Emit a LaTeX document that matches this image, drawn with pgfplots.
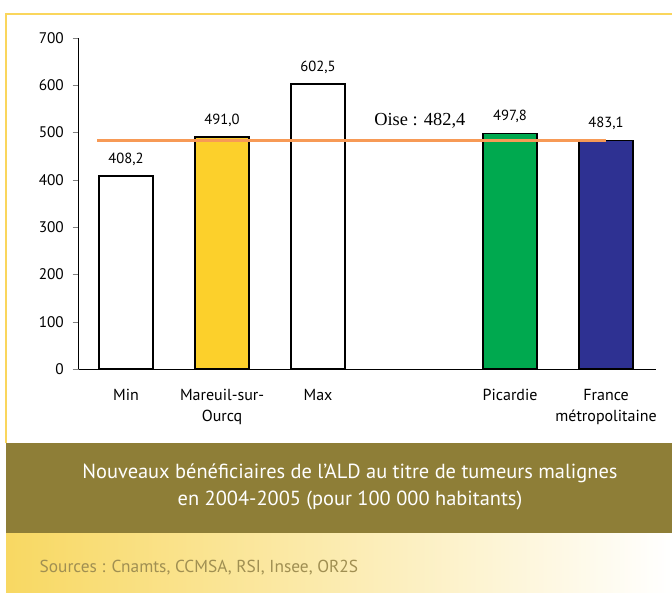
\documentclass[border=0pt]{standalone}
\usepackage{pgfplots}
\pgfplotsset{compat=1.18}
\usepackage{fontspec}
\setmainfont{PT Sans}
\newfontfamily\serif{Liberation Serif}
\definecolor{frameyel}{HTML}{FAD65C}
\definecolor{olive}{HTML}{8E7E37}
\definecolor{barYel}{HTML}{FCD02B}
\definecolor{barGreen}{HTML}{00A94F}
\definecolor{barBlue}{HTML}{2E3192}
\definecolor{oiseOrange}{HTML}{F79A56}
\definecolor{srcText}{HTML}{A08F52}
\definecolor{gradYel}{HTML}{F8D862}
\begin{document}
\begin{tikzpicture}
\begin{scope}[x=0.75pt,y=-0.75pt]
\useasboundingbox[fill=white] (0,0) rectangle (672,595);
\fill[shading=axis,left color=gradYel,right color=white,shading angle=90] (6,533) rectangle (672,592);
\fill[olive] (6,443) rectangle (672,533);
\draw[frameyel,line width=1.6pt] (6,443) -- (6,14) -- (672,14);
\node[white,font=\fontsize{15.3pt}{20pt}\selectfont,align=center] at (350,487) {Nouveaux bénéficiaires de l’ALD au titre de tumeurs malignes\\en 2004-2005 (pour 100 000 habitants)};
\node[srcText,font=\fontsize{13pt}{15pt}\selectfont,anchor=west] at (35,568) {Sources : Cnamts, CCMSA, RSI, Insee, OR2S};
\end{scope}
\begin{axis}[
  at={(58.9pt,-276.75pt)}, anchor=south west,
  scale only axis, width=433.1pt, height=248.25pt,
  xmin=-0.495, xmax=5.52, ymin=0, ymax=700,
  axis lines=left, axis line style={-, line width=0.6pt},
  ytick={0,100,...,700},
  tick align=outside, major tick length=4.5pt,
  xtick={0,1,2,4,5},
  xticklabels={Min,Mareuil-sur-\\Ourcq,Max,Picardie,France\\métropolitaine},
  x tick style={draw=none},
  xticklabel style={align=center, font=\fontsize{12pt}{16pt}\selectfont, yshift=-7pt},
  yticklabel style={font=\fontsize{11.5pt}{12pt}\selectfont, xshift=-3pt},
  /pgf/number format/assume math mode=true,
  clip=false,
  nodes near coords={\pgfmathprintnumber[use comma,fixed,fixed zerofill,precision=1]{\pgfplotspointmeta}},
  nodes near coords style={font=\fontsize{11pt}{12pt}\selectfont, black, yshift=4pt},
]
\addplot[ybar, bar shift=0pt, bar width=40.5pt, fill=white, draw=black, line width=1.2pt] coordinates {(0,408.2)};
\addplot[ybar, bar shift=0pt, bar width=40.5pt, fill=barYel, draw=black, line width=1.2pt] coordinates {(1,491.0)};
\addplot[ybar, bar shift=0pt, bar width=40.5pt, fill=white, draw=black, line width=1.2pt] coordinates {(2,602.5)};
\addplot[ybar, bar shift=0pt, bar width=40.5pt, fill=barGreen, draw=black, line width=1.2pt] coordinates {(4,497.8)};
\addplot[ybar, bar shift=0pt, bar width=40.5pt, fill=barBlue, draw=black, line width=1.2pt] coordinates {(5,483.1)};
\addplot[sharp plot, oiseOrange, line width=2.4pt, nodes near coords={}, no markers] coordinates {(-0.3,482.4) (5.0,482.4)};
\node[font=\serif\fontsize{13.8pt}{15pt}\selectfont] at (axis cs:3.06,524) {Oise : 482,4};
\end{axis}
\end{tikzpicture}
\end{document}
